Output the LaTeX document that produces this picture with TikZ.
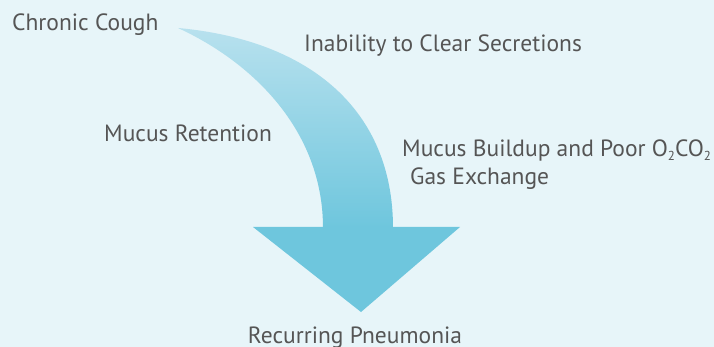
\documentclass[tikz,border=0pt]{standalone}
\usepackage{fontspec}
\setmainfont{PT Sans}
\definecolor{bgc}{HTML}{E7F5F9}
\definecolor{textgray}{HTML}{555555}
\definecolor{arrtop}{HTML}{B8E1EE}
\definecolor{arrbot}{HTML}{6EC6DD}
\begin{document}
\begin{tikzpicture}[x=1pt,y=-1pt,
  lbl/.style={text=textgray, font=\fontsize{23.5}{28}\selectfont, inner sep=0pt, anchor=base west}]
\fill[bgc] (0,0) rectangle (714,347);
\useasboundingbox (0,0) rectangle (714,347);
% shaft
\shade[top color=arrtop, bottom color=arrbot]
  (178,28) .. controls (310,40) and (393,110) .. (393,228)
  -- (323,228) .. controls (323,130) and (252,62) .. (178,28) -- cycle;
% head
\fill[arrbot] (253,227) -- (460,227) -- (361,312) -- cycle;
% labels
\node[lbl] (cough) at (12,31) {Chronic Cough};
\node[lbl] (inab) at (304,51.5) {Inability to Clear Secretions};
\node[lbl] (ret) at (104,142) {Mucus Retention};
\node[lbl] (build) at (402,156.5) {Mucus Buildup and Poor O\raisebox{-4pt}{\fontsize{13}{13}\selectfont 2}CO\raisebox{-4pt}{\fontsize{13}{13}\selectfont 2}};
\node[lbl] (gas) at (410,185) {Gas Exchange};
\node[lbl, anchor=base] (pneu) at (355,343) {Recurring Pneumonia};
\end{tikzpicture}
\end{document}
